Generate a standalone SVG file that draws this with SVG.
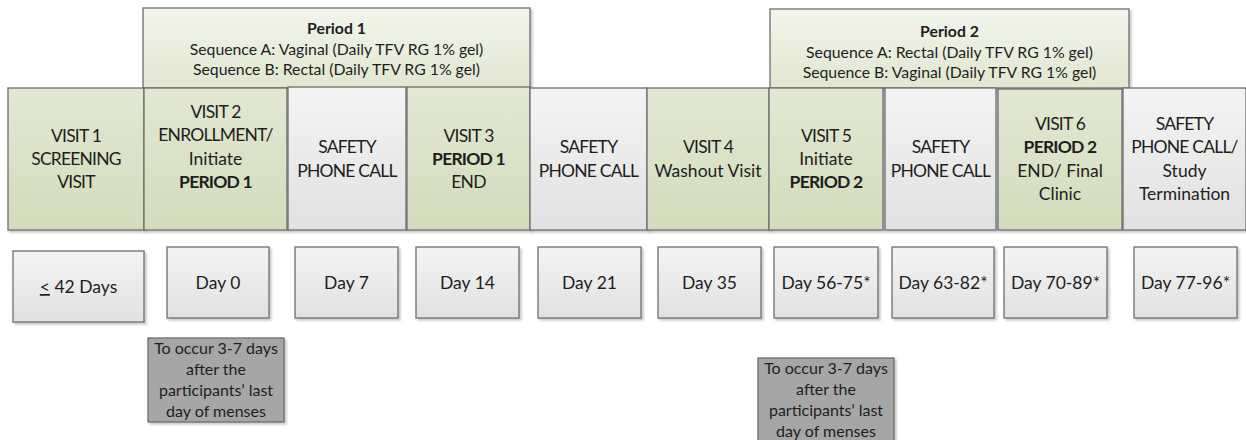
<svg xmlns="http://www.w3.org/2000/svg" width="1246" height="440" viewBox="0 0 1246 440">
<defs>
<linearGradient id="gGreen" x1="0" y1="0" x2="0" y2="1"><stop offset="0" stop-color="#e2e8d3"/><stop offset="1" stop-color="#d3dcbc"/></linearGradient>
<linearGradient id="gPeriod" x1="0" y1="0" x2="0" y2="1"><stop offset="0" stop-color="#f2f5eb"/><stop offset="1" stop-color="#e1e7d1"/></linearGradient>
<linearGradient id="gGray" x1="0" y1="0" x2="0" y2="1"><stop offset="0" stop-color="#f4f4f4"/><stop offset="1" stop-color="#e1e1e1"/></linearGradient>
<filter id="sh" x="-10%" y="-10%" width="130%" height="130%"><feDropShadow dx="2" dy="2" stdDeviation="1.2" flood-color="#000" flood-opacity="0.22"/></filter>
<style>
.box{stroke:#6e6e6e;stroke-width:1.3;filter:url(#sh)}
.green{fill:url(#gGreen)}
.period{fill:url(#gPeriod)}
.gray{fill:url(#gGray)}
.note{fill:#a6a6a6}
text{font-family:Lato,"Open Sans","Liberation Sans",sans-serif;fill:#1e1e1e;text-anchor:middle}
.v{font-size:17.5px}
.c{letter-spacing:-0.8px}
.p{font-size:15.8px}
.n{font-size:16px}
.b{font-weight:bold}
</style>
</defs>

<g id="period1">
<rect class="box period" x="143" y="8" width="387" height="80"/>
<text class="p b" x="336.5" y="34">Period 1</text>
<text class="p" x="336.5" y="55">Sequence A: Vaginal (Daily TFV RG 1% gel)</text>
<text class="p" x="336.5" y="75">Sequence B: Rectal (Daily TFV RG 1% gel)</text>
</g>
<g id="period2">
<rect class="box period" x="770" y="9" width="359" height="79"/>
<text class="p b" x="949.5" y="37">Period 2</text>
<text class="p" x="949.5" y="58">Sequence A: Rectal  (Daily TFV RG 1% gel)</text>
<text class="p" x="949.5" y="78">Sequence B: Vaginal (Daily TFV RG 1% gel)</text>
</g>

<g id="visit1">
<rect class="box green" x="8" y="88" width="136" height="142"/>
<text class="v c" x="76" y="142">VISIT 1</text>
<text class="v c" x="76" y="165">SCREENING</text>
<text class="v c" x="76" y="188">VISIT</text>
</g>
<g id="visit2">
<rect class="box green" x="144" y="88" width="143" height="142"/>
<text class="v c" x="215.5" y="118">VISIT 2</text>
<text class="v c" x="215.5" y="141">ENROLLMENT/</text>
<text class="v" x="215.5" y="165">Initiate</text>
<text class="v b c" x="215.5" y="188">PERIOD 1</text>
</g>
<g id="call1">
<rect class="box gray" x="288" y="87" width="118" height="143"/>
<text class="v c" x="347" y="153">SAFETY</text>
<text class="v c" x="347" y="177">PHONE CALL</text>
</g>
<g id="visit3">
<rect class="box green" x="407" y="87" width="123" height="143"/>
<text class="v c" x="468.5" y="142">VISIT 3</text>
<text class="v b c" x="468.5" y="165">PERIOD 1</text>
<text class="v c" x="468.5" y="188">END</text>
</g>
<g id="call2">
<rect class="box gray" x="530" y="88" width="117" height="142"/>
<text class="v c" x="588.5" y="153">SAFETY</text>
<text class="v c" x="588.5" y="177">PHONE CALL</text>
</g>
<g id="visit4">
<rect class="box green" x="647" y="88" width="122" height="142"/>
<text class="v c" x="708" y="153">VISIT 4</text>
<text class="v" x="708" y="177">Washout Visit</text>
</g>
<g id="visit5">
<rect class="box green" x="769" y="88" width="114" height="142"/>
<text class="v c" x="826" y="142">VISIT 5</text>
<text class="v" x="826" y="165">Initiate</text>
<text class="v b c" x="826" y="188">PERIOD 2</text>
</g>
<g id="call3">
<rect class="box gray" x="885" y="88" width="111" height="142"/>
<text class="v c" x="940.5" y="153">SAFETY</text>
<text class="v c" x="940.5" y="177">PHONE CALL</text>
</g>
<g id="visit6">
<rect class="box green" x="998" y="89" width="124" height="141"/>
<text class="v c" x="1060" y="130">VISIT 6</text>
<text class="v b c" x="1060" y="153">PERIOD 2</text>
<text class="v" x="1060" y="177">END/ Final</text>
<text class="v" x="1060" y="200">Clinic</text>
</g>
<g id="call4">
<rect class="box gray" x="1123" y="88" width="123" height="142"/>
<text class="v c" x="1184.5" y="130">SAFETY</text>
<text class="v c" x="1184.5" y="153">PHONE CALL/</text>
<text class="v" x="1184.5" y="177">Study</text>
<text class="v" x="1184.5" y="200">Termination</text>
</g>

<g id="day-screening">
<rect class="box gray" x="13" y="251" width="131" height="71"/>
<text class="v" x="78.5" y="293"><tspan text-decoration="underline">&lt;</tspan> 42 Days</text>
</g>
<g id="day0">
<rect class="box gray" x="167" y="247" width="102" height="71"/>
<text class="v" x="218" y="289">Day 0</text>
</g>
<g id="day7">
<rect class="box gray" x="295" y="247" width="103" height="71"/>
<text class="v" x="346.5" y="289">Day 7</text>
</g>
<g id="day14">
<rect class="box gray" x="416" y="247" width="103" height="71"/>
<text class="v" x="467.5" y="289">Day 14</text>
</g>
<g id="day21">
<rect class="box gray" x="538" y="247" width="103" height="71"/>
<text class="v" x="589.5" y="289">Day 21</text>
</g>
<g id="day35">
<rect class="box gray" x="658" y="247" width="103" height="71"/>
<text class="v" x="709.5" y="289">Day 35</text>
</g>
<g id="day56">
<rect class="box gray" x="774" y="247" width="104" height="71"/>
<text class="v" x="826" y="289">Day 56-75*</text>
</g>
<g id="day63">
<rect class="box gray" x="892" y="247" width="102" height="71"/>
<text class="v" x="943" y="289">Day 63-82*</text>
</g>
<g id="day70">
<rect class="box gray" x="1004" y="247" width="103" height="71"/>
<text class="v" x="1055.5" y="289">Day 70-89*</text>
</g>
<g id="day77">
<rect class="box gray" x="1134" y="247" width="103" height="71"/>
<text class="v" x="1185.5" y="289">Day 77-96*</text>
</g>

<g id="note1">
<rect class="box note" x="148" y="338" width="136" height="84"/>
<text class="n" x="216" y="354">To occur 3-7 days</text>
<text class="n" x="216" y="375">after the</text>
<text class="n" x="216" y="396">participants’ last</text>
<text class="n" x="216" y="417">day of menses</text>
</g>
<g id="note2">
<rect class="box note" x="758" y="358" width="136" height="88"/>
<text class="n" x="826" y="374">To occur 3-7 days</text>
<text class="n" x="826" y="395">after the</text>
<text class="n" x="826" y="416">participants’ last</text>
<text class="n" x="826" y="437">day of menses</text>
</g>
</svg>
